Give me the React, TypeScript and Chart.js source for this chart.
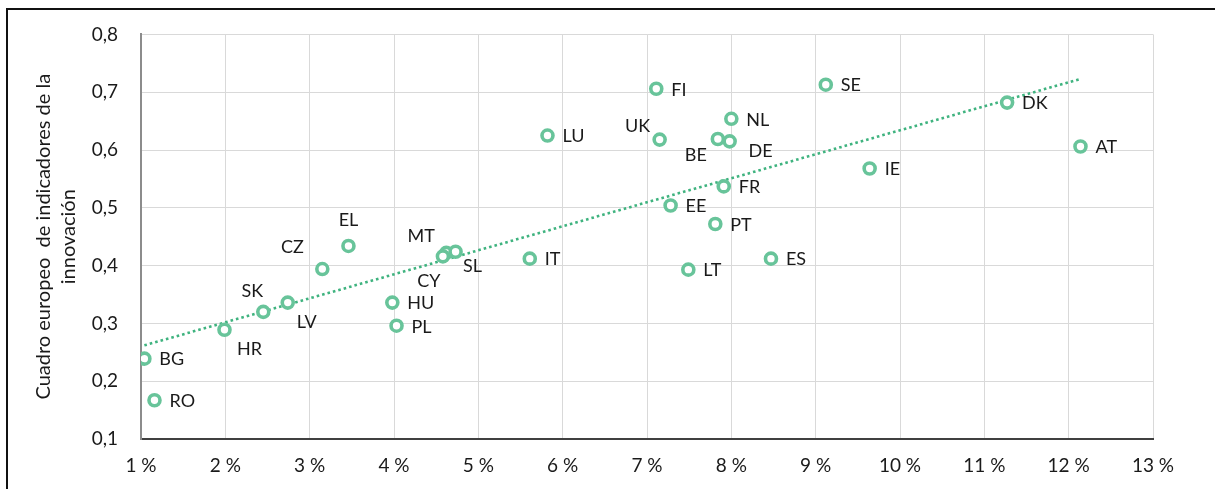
import React, { useEffect, useRef } from "react";
import { Chart, registerables } from "chart.js";

Chart.register(...registerables);

// Country codes
const countries = [
  "BG", "RO", "HR", "SK", "LV", "CZ", "EL", "MT", "CY", "SL",
  "HU", "PL", "IT", "LU", "FI", "UK", "BE", "DE", "NL", "FR",
  "EE", "PT", "LT", "ES", "SE", "IE", "DK", "AT",
];

// X values (%)
const rdShare = [
  1.04, 1.16, 1.99, 2.45, 2.74, 3.15, 3.46, 4.62, 4.58, 4.73,
  3.98, 4.03, 5.61, 5.82, 7.11, 7.15, 7.84, 7.98, 8.0, 7.91,
  7.28, 7.81, 7.49, 8.47, 9.12, 9.64, 11.27, 12.14,
];

// Y values (innovation scoreboard)
const innovationIndex = [
  0.239, 0.167, 0.289, 0.32, 0.336, 0.394, 0.434, 0.422, 0.416, 0.424,
  0.336, 0.296, 0.412, 0.625, 0.706, 0.618, 0.619, 0.615, 0.654, 0.537,
  0.504, 0.472, 0.393, 0.412, 0.713, 0.568, 0.682, 0.606,
];

// Linear trend line end points
const trendX = [1.04, 12.14];
const trendY = [0.262, 0.723];

const yAxisTitle = ["Cuadro europeo  de indicadores de la", "innovación"];

// Label placement (pixel offsets from marker, text alignment)
const defaultPlacement: [number, number, CanvasTextAlign] = [15, 1, "left"];
const labelPlacement: Record<string, [number, number, CanvasTextAlign]> = {
  HR: [25, 19, "center"],
  SK: [-11, -21, "center"],
  LV: [19, 20, "center"],
  CZ: [-30, -22, "center"],
  EL: [0, -26, "center"],
  MT: [-25, -17, "center"],
  CY: [-14, 25, "center"],
  SL: [17, 14, "center"],
  UK: [-22, -13, "center"],
  BE: [-22, 16, "center"],
  DE: [31, 10, "center"],
};

const FONT = "Lato";
const TEXT = "#1a1a1a";

const labelPlugin = {
  id: "countryLabels",
  afterDatasetsDraw(chart: any) {
    const meta = chart.getDatasetMeta(0);
    const ctx = chart.ctx as CanvasRenderingContext2D;
    ctx.save();
    ctx.font = `18px ${FONT}`;
    ctx.fillStyle = TEXT;
    ctx.textBaseline = "middle";
    meta.data.forEach((el: any, i: number) => {
      const name = countries[i];
      const [dx, dy, align] = labelPlacement[name] ?? defaultPlacement;
      ctx.textAlign = align;
      ctx.fillText(name, el.x + dx, el.y + dy);
    });
    ctx.restore();
  },
};

export default function App() {
  const ref = useRef<HTMLCanvasElement | null>(null);

  useEffect(() => {
    if (!ref.current) return;
    const chart = new Chart(ref.current, {
      type: "scatter",
      data: {
        datasets: [
          {
            label: "Países",
            data: countries.map((_, i) => ({ x: rdShare[i], y: innovationIndex[i] })),
            pointRadius: 5.5,
            pointHoverRadius: 5.5,
            pointBorderWidth: 3.6,
            borderColor: "#68c49a",
            backgroundColor: "#ffffff",
            order: 1,
          },
          {
            type: "line",
            label: "Tendencia",
            data: trendX.map((x, i) => ({ x, y: trendY[i] })),
            borderColor: "#3fb37f",
            borderWidth: 2.6,
            borderDash: [2.6, 3],
            pointRadius: 0,
            fill: false,
            order: 2,
          } as any,
        ],
      },
      options: {
        responsive: false,
        animation: false,
        devicePixelRatio: 1,
        layout: { padding: { top: 32, right: 62, left: 0, bottom: 0 } },
        plugins: {
          legend: { display: false },
          tooltip: { enabled: false },
        },
        scales: {
          x: {
            type: "linear",
            min: 1,
            max: 13,
            ticks: {
              stepSize: 1,
              autoSkip: false,
              maxRotation: 0,
              padding: 15,
              color: TEXT,
              font: { family: FONT, size: 19 },
              callback: (v: any) => `${v} %`,
            },
            grid: { color: "#d9d9d9", lineWidth: 1, drawTicks: false },
            border: { color: "#404040", width: 2 },
            afterFit: (s: any) => {
              s.height = 50;
            },
          },
          y: {
            type: "linear",
            min: 0.1,
            max: 0.8,
            ticks: {
              stepSize: 0.1,
              padding: 23,
              color: TEXT,
              font: { family: FONT, size: 19 },
              callback: (v: any) => Number(v).toFixed(1).replace(".", ","),
            },
            grid: { color: "#d9d9d9", lineWidth: 1, drawTicks: false },
            border: { color: "#8c8c8c", width: 2 },
            title: {
              display: true,
              text: yAxisTitle,
              color: TEXT,
              font: { family: FONT, size: 20, lineHeight: 1.25 },
              padding: { top: 31.5, bottom: 0 },
            },
            afterFit: (s: any) => {
              s.width = 141;
            },
          },
        },
      },
      plugins: [labelPlugin],
    });
    return () => chart.destroy();
  }, []);

  return (
    <div
      style={{
        position: "fixed",
        left: 0,
        top: 0,
        width: 1215,
        height: 489,
        overflow: "hidden",
        background: "#ffffff",
      }}
    >
      <canvas
        ref={ref}
        width={1215}
        height={489}
        style={{ position: "absolute", left: 0, top: 0, width: 1215, height: 489 }}
      />
      <div
        style={{
          position: "absolute",
          left: 6,
          top: 8,
          width: 1400,
          height: 700,
          borderLeft: "2px solid #111",
          borderTop: "2px solid #111",
          pointerEvents: "none",
        }}
      />
    </div>
  );
}
